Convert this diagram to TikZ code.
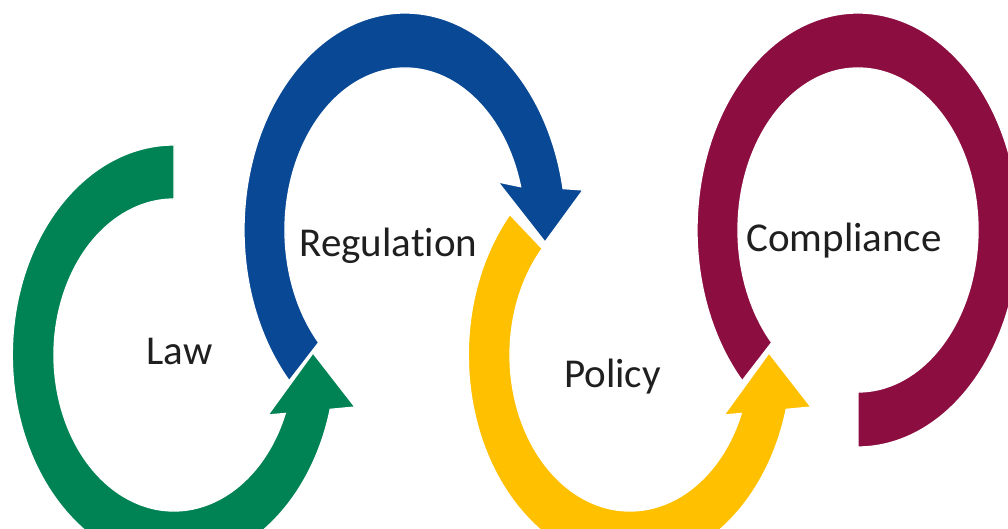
\documentclass[tikz,border=0pt]{standalone}
\usepackage{fontspec}
\setmainfont{Carlito}[Ligatures={NoCommon,NoContextual}]
\definecolor{lawgreen}{RGB}{0,131,84}
\definecolor{regblue}{RGB}{8,72,148}
\definecolor{polyellow}{RGB}{255,192,0}
\definecolor{commaroon}{RGB}{140,14,64}
\newcommand\lowarrowpath[2]{(#1:161.7 and 210) arc[start angle=#1,end angle=345,x radius=161.7,y radius=210] -- (181,-52) -- (139,2) -- (94,-60) -- (338:120 and 156) arc[start angle=338,end angle=#2,x radius=120,y radius=156] -- cycle}
\begin{document}
\begin{tikzpicture}[x=1pt,y=1pt,
  band/.style={draw=white,line width=1.3pt,line join=miter},
  lbl/.style={anchor=base,font=\fontsize{41}{48}\selectfont,text=black!88,inner sep=0pt}]
\useasboundingbox (0,0) rectangle (1008,529);
\clip (0,0) rectangle (1008,529);
\fill[white] (0,0) rectangle (1008,529);
% Compliance (maroon)
\begin{scope}[shift={(858,299)}]
\path[band,fill=commaroon] (224:161 and 217) arc[start angle=224,end angle=-90,x radius=161,y radius=217]
  -- (-90:120 and 162) arc[start angle=-90,end angle=224,x radius=120,y radius=162] -- cycle;
\end{scope}
% Policy (yellow)
\begin{scope}[shift={(630,174)}]
\path[band,fill=polyellow] \lowarrowpath{138}{137};
\end{scope}
% Regulation (blue)
\begin{scope}[shift={(405,299)}]
\path[band,fill=regblue] (224:161 and 217) arc[start angle=224,end angle=11,x radius=161,y radius=217]
  -- (178,40) -- (140,-12) -- (93,48)
  -- (15.5:120 and 162) arc[start angle=15.5,end angle=224,x radius=120,y radius=162] -- cycle;
\end{scope}
% Law (green)
\begin{scope}[shift={(174,174)}]
\path[band,fill=lawgreen] \lowarrowpath{90}{90};
\end{scope}
\node[lbl] (law) at (179.5,164) {Law};
\node[lbl] (regulation) at (388.5,272) {Regulation};
\node[lbl] (policy) at (612.5,141) {Policy};
\node[lbl] (compliance) at (844,277) {Compliance};
\end{tikzpicture}
\end{document}
